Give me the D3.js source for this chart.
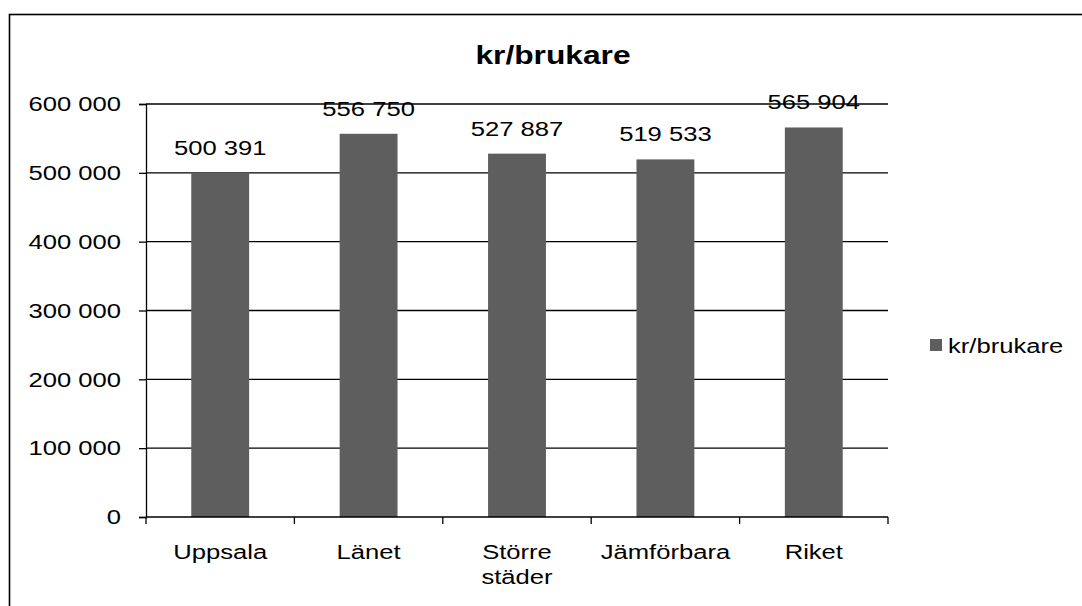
<!DOCTYPE html>
<html>
<head>
<meta charset="utf-8">
<script src="https://cdn.jsdelivr.net/npm/d3@7"></script>
<style>
  body { margin: 0; background: #fff; }
  text { font-family: "Liberation Sans", Arial, sans-serif; fill: #000; }
</style>
</head>
<body>
<div id="chart"></div>
<script>
const categories = [['Uppsala'], ['Länet'], ['Större', 'städer'], ['Jämförbara'], ['Riket']];
const values = [500391, 556750, 527887, 519533, 565904];
const yTicks = [0, 100000, 200000, 300000, 400000, 500000, 600000];
const seriesName = 'kr/brukare';

const width = 1082, height = 606;
const plot = { left: 146, right: 888, top: 104, bottom: 517 };
const barColor = '#5e5e5e';
const stretch = 1.22; // the scanned original is a bit wide

const fmt = v => d3.format(',')(v).replace(/,/g, ' ');
const place = (x, y) => `translate(${x},${y}) scale(${stretch},1)`;

const svg = d3.select('#chart').append('svg')
  .attr('width', width)
  .attr('height', height);

// outer frame (right and bottom edges run off the picture)
svg.append('rect')
  .attr('x', 9.5).attr('y', 14.5)
  .attr('width', 1100).attr('height', 700)
  .attr('fill', 'none')
  .attr('stroke', '#000')
  .attr('stroke-width', 1.6);

const x = d3.scaleBand()
  .domain(d3.range(categories.length))
  .range([plot.left, plot.right])
  .paddingInner(0.61)
  .paddingOuter(0.305);

const y = d3.scaleLinear()
  .domain([0, 600000])
  .range([plot.bottom, plot.top]);

// gridlines
svg.append('g')
  .selectAll('line')
  .data(yTicks.slice(1))
  .enter()
  .append('line')
  .attr('x1', plot.left).attr('x2', plot.right)
  .attr('y1', d => y(d)).attr('y2', d => y(d))
  .attr('stroke', '#000')
  .attr('stroke-width', 1.3);

// bars
svg.append('g')
  .selectAll('rect')
  .data(values)
  .enter()
  .append('rect')
  .attr('x', (d, i) => x(i))
  .attr('y', d => y(d))
  .attr('width', x.bandwidth())
  .attr('height', d => y(0) - y(d))
  .attr('fill', barColor);

// y axis
const yAxis = svg.append('g')
  .attr('transform', `translate(${plot.left},0)`)
  .call(d3.axisLeft(y).tickValues(yTicks).tickSize(7).tickFormat(fmt));
yAxis.select('.domain').attr('stroke', '#000').attr('stroke-width', 1.3);
yAxis.selectAll('.tick line').attr('stroke-width', 1.3);
yAxis.selectAll('text')
  .attr('x', 0)
  .attr('transform', place(-25, 0))
  .attr('font-size', 21)
  .attr('font-family', '"Liberation Sans", Arial, sans-serif');

// x axis with tick marks at band boundaries
const xAxis = svg.append('g')
  .attr('transform', `translate(0,${plot.bottom})`);
xAxis.append('line')
  .attr('x1', plot.left).attr('x2', plot.right)
  .attr('stroke', '#000').attr('stroke-width', 1.3);
const step = x.step();
xAxis.selectAll('.xt')
  .data(d3.range(categories.length + 1))
  .enter()
  .append('line')
  .attr('x1', i => plot.left + i * step)
  .attr('x2', i => plot.left + i * step)
  .attr('y1', 0).attr('y2', 7)
  .attr('stroke', '#000').attr('stroke-width', 1.3);

const catText = svg.append('g')
  .selectAll('text')
  .data(categories)
  .enter()
  .append('text')
  .attr('transform', (d, i) => place(x(i) + x.bandwidth() / 2, 559))
  .attr('text-anchor', 'middle')
  .attr('font-size', 21);
catText.selectAll('tspan')
  .data(d => d)
  .enter()
  .append('tspan')
  .attr('x', 0)
  .attr('dy', (d, i) => i === 0 ? 0 : 25)
  .text(d => d);

// value labels
svg.append('g')
  .selectAll('text')
  .data(values)
  .enter()
  .append('text')
  .attr('transform', (d, i) => place(x(i) + x.bandwidth() / 2, y(d) - 18))
  .attr('text-anchor', 'middle')
  .attr('font-size', 21)
  .text(fmt);

// title
svg.append('text')
  .attr('transform', place(553, 64))
  .attr('text-anchor', 'middle')
  .attr('font-size', 26)
  .attr('font-weight', 'bold')
  .text(seriesName);

// legend
svg.append('rect')
  .attr('x', 930).attr('y', 339)
  .attr('width', 12).attr('height', 12)
  .attr('fill', barColor);
svg.append('text')
  .attr('transform', place(948, 353))
  .attr('font-size', 21)
  .text(seriesName);
</script>
</body>
</html>
